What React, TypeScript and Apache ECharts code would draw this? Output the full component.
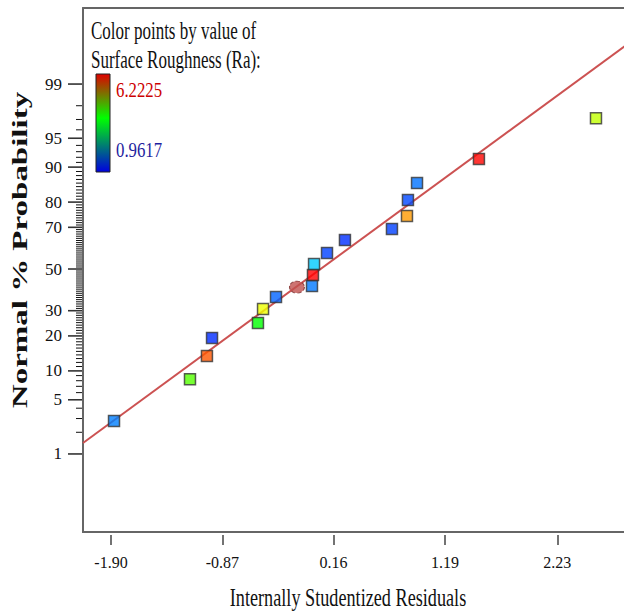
import React, { useEffect, useRef } from "react";
import * as echarts from "echarts";

// ---- data ----
const residuals = [-1.872, -1.169, -1.012, -0.965, -0.54, -0.493, -0.373, -0.04, -0.031, -0.021, 0.099, 0.265, 0.7, 0.839, 0.848, 0.932, 1.505, 2.588];
const probabilities = [2.8, 8.3, 13.7, 19.3, 24.9, 30.7, 36.2, 41.5, 47.0, 52.5, 58.0, 64.2, 69.3, 74.8, 80.7, 86.0, 91.7, 97.1];
const roughness = [1.62, 4.03, 5.78, 1.18, 3.59, 4.82, 1.47, 1.58, 6.2225, 2.01, 1.29, 1.2, 1.29, 5.43, 1.33, 1.55, 6.2, 4.58];

const highlightResidual = [-0.179];
const highlightProbability = [41.0];

const fitResiduals = [-2.159, 2.9];
const fitProbabilities = [1.43, 99.78];

const raMin = 0.9617;
const raMax = 6.2225;

const xTickValues = [-1.9, -0.87, 0.16, 1.19, 2.23];
const yMajorTicks = [1, 5, 10, 20, 30, 50, 70, 80, 90, 95, 99];
const yMinorTicks: number[] = [];
for (let p = 2; p <= 98; p++) if (!yMajorTicks.includes(p)) yMinorTicks.push(p);

const xTitle = "Internally Studentized Residuals";
const yTitle = "Normal % Probability";
const legendTitle1 = "Color points by value of";
const legendTitle2 = "Surface Roughness (Ra):";

// inverse standard normal CDF (Acklam) -> probability axis scale
function probit(pct: number): number {
  const p = pct / 100;
  const a = [-3.969683028665376e1, 2.209460984245205e2, -2.759285104469687e2, 1.38357751867269e2, -3.066479806614716e1, 2.506628277459239];
  const b = [-5.447609879822406e1, 1.615858368580409e2, -1.556989798598866e2, 6.680131188771972e1, -1.328068155288572e1];
  const c = [-7.784894002430293e-3, -3.223964580411365e-1, -2.400758277161838, -2.549732539343734, 4.374664141464968, 2.938163982698783];
  const d = [7.784695709041462e-3, 3.224671290700398e-1, 2.445134137142996, 3.754408661907416];
  const pl = 0.02425;
  if (p < pl) {
    const q = Math.sqrt(-2 * Math.log(p));
    return (((((c[0] * q + c[1]) * q + c[2]) * q + c[3]) * q + c[4]) * q + c[5]) / ((((d[0] * q + d[1]) * q + d[2]) * q + d[3]) * q + 1);
  }
  if (p > 1 - pl) {
    const q = Math.sqrt(-2 * Math.log(1 - p));
    return -(((((c[0] * q + c[1]) * q + c[2]) * q + c[3]) * q + c[4]) * q + c[5]) / ((((d[0] * q + d[1]) * q + d[2]) * q + d[3]) * q + 1);
  }
  const q = p - 0.5;
  const r = q * q;
  return ((((((a[0] * r + a[1]) * r + a[2]) * r + a[3]) * r + a[4]) * r + a[5]) * q) / (((((b[0] * r + b[1]) * r + b[2]) * r + b[3]) * r + b[4]) * r + 1);
}

const SERIF = '"Liberation Serif", "Times New Roman", serif';

export default function App() {
  const ref = useRef<HTMLDivElement>(null);

  useEffect(() => {
    if (!ref.current) return;
    const chart = echarts.init(ref.current, undefined, { renderer: "svg" });

    const majorZ = yMajorTicks.map(probit);
    const minorZ = yMinorTicks.map(probit);
    const yMin = -3.308;
    const yMax = 3.283;
    const xMin = -2.159;
    const xMax = 3.0;

    const pointData = residuals.map((r, i) => [r, probit(probabilities[i]), roughness[i]]);
    const hlData = highlightResidual.map((r, i) => [r, probit(highlightProbability[i])]);
    const fitData = fitResiduals.map((r, i) => [r, probit(fitProbabilities[i])]);

    const tickSeries = (zs: number[], len: number, width: number, color: string) => ({
      type: "custom",
      xAxisIndex: 0,
      yAxisIndex: 0,
      clip: false,
      silent: true,
      z: 5,
      data: zs.map((z) => [xMin, z]),
      encode: { x: 0, y: 1 },
      renderItem: (params: any, api: any) => {
        const p = api.coord([api.value(0), api.value(1)]);
        return {
          type: "line",
          shape: { x1: p[0] - len, y1: p[1], x2: p[0] - 1, y2: p[1] },
          style: { stroke: color, lineWidth: width },
        };
      },
    });

    const option: any = {
      animation: false,
      backgroundColor: "#ffffff",
      grid: {
        left: 83,
        top: 8,
        right: 19.5,
        bottom: 81,
        show: true,
        borderColor: "#333",
        borderWidth: 1.5,
      },
      xAxis: [
        {
          type: "value",
          min: xMin,
          max: xMax,
          position: "bottom",
          axisLine: { show: true, onZero: false, lineStyle: { color: "#666", width: 2 } },
          axisTick: { show: false },
          axisLabel: { show: false },
          splitLine: { show: false },
        },
        {
          type: "value",
          min: xMin,
          max: xMax,
          position: "bottom",
          offset: 3,
          axisLine: { show: false, onZero: false },
          axisTick: {
            show: true,
            length: 10,
            customValues: xTickValues,
            lineStyle: { color: "#444", width: 1.5 },
          },
          axisLabel: {
            show: true,
            customValues: xTickValues,
            margin: 19,
            fontSize: 16,
            fontFamily: SERIF,
            color: "#111",
            formatter: (v: number) => v.toFixed(2),
          },
          splitLine: { show: false },
        },
      ],
      yAxis: [
        {
          type: "value",
          min: yMin,
          max: yMax,
          position: "left",
          axisLine: { show: true, onZero: false, lineStyle: { color: "#666", width: 2 } },
          axisTick: { show: false },
          axisLabel: {
            show: true,
            customValues: majorZ,
            margin: 21,
            fontSize: 17,
            fontFamily: SERIF,
            color: "#111",
            formatter: (v: number) => {
              let best = 0;
              let bd = Infinity;
              majorZ.forEach((z, i) => {
                const d = Math.abs(z - v);
                if (d < bd) {
                  bd = d;
                  best = i;
                }
              });
              return String(yMajorTicks[best]);
            },
          },
          splitLine: { show: false },
        },
      ],
      visualMap: {
        show: false,
        type: "continuous",
        min: raMin,
        max: raMax,
        dimension: 2,
        seriesIndex: 2,
        inRange: { color: ["#0000ff", "#00ffff", "#00ff00", "#ffff00", "#ff0000"] },
      },
      series: [
        {
          type: "line",
          data: fitData,
          xAxisIndex: 0,
          yAxisIndex: 0,
          showSymbol: false,
          symbol: "none",
          lineStyle: { color: "#cc5252", width: 2 },
          z: 1,
          silent: true,
        },
        {
          type: "scatter",
          data: hlData,
          xAxisIndex: 0,
          yAxisIndex: 0,
          symbol: "circle",
          symbolSize: [15, 12],
          itemStyle: { color: "#c0504d", borderColor: "#7a2a2a", borderWidth: 1, borderType: "dashed" },
          z: 3,
        },
        {
          type: "scatter",
          data: pointData,
          xAxisIndex: 0,
          yAxisIndex: 0,
          symbol: "rect",
          symbolSize: 11,
          itemStyle: { borderColor: "#333", borderWidth: 1.5 },
          z: 4,
        },
        tickSeries(majorZ, 15, 1.6, "#333"),
        tickSeries(minorZ, 7, 1, "#111"),
      ],
      graphic: [
        {
          type: "text",
          x: 91,
          y: 31,
          scaleX: 0.68,
          style: { text: legendTitle1, font: `25px ${SERIF}`, fill: "#111", textAlign: "left", textVerticalAlign: "middle" },
        },
        {
          type: "text",
          x: 91,
          y: 60,
          scaleX: 0.68,
          style: { text: legendTitle2, font: `25px ${SERIF}`, fill: "#111", textAlign: "left", textVerticalAlign: "middle" },
        },
        {
          type: "rect",
          shape: { x: 96, y: 74, width: 14, height: 98 },
          style: {
            fill: {
              type: "linear",
              x: 0,
              y: 0,
              x2: 0,
              y2: 1,
              colorStops: [
                { offset: 0, color: "#e00000" },
                { offset: 0.45, color: "#00ff00" },
                { offset: 1, color: "#0000e0" },
              ],
            },
            stroke: "#222",
            lineWidth: 1,
          },
        },
        {
          type: "text",
          x: 116,
          y: 90,
          scaleX: 0.8,
          style: { text: raMax.toFixed(4), font: `21px ${SERIF}`, fill: "#cc0000", textAlign: "left", textVerticalAlign: "middle" },
        },
        {
          type: "text",
          x: 116,
          y: 150,
          scaleX: 0.8,
          style: { text: raMin.toFixed(4), font: `21px ${SERIF}`, fill: "#1e1e9e", textAlign: "left", textVerticalAlign: "middle" },
        },
        {
          type: "text",
          x: 348,
          y: 597,
          scaleX: 0.7,
          style: { text: xTitle, font: `26px ${SERIF}`, fill: "#111", textAlign: "center", textVerticalAlign: "middle" },
        },
        {
          type: "text",
          x: 20,
          y: 250,
          rotation: Math.PI / 2,
          scaleY: 0.62,
          style: { text: yTitle, font: `bold 33px ${SERIF}`, fill: "#111", textAlign: "center", textVerticalAlign: "middle" },
        },
      ],
    };

    chart.setOption(option);
    return () => chart.dispose();
  }, []);

  return (
    <div style={{ position: "fixed", left: 0, top: 0, width: 624, height: 613, overflow: "hidden", background: "#fff" }}>
      <div ref={ref} style={{ width: 660, height: 613 }} />
    </div>
  );
}
